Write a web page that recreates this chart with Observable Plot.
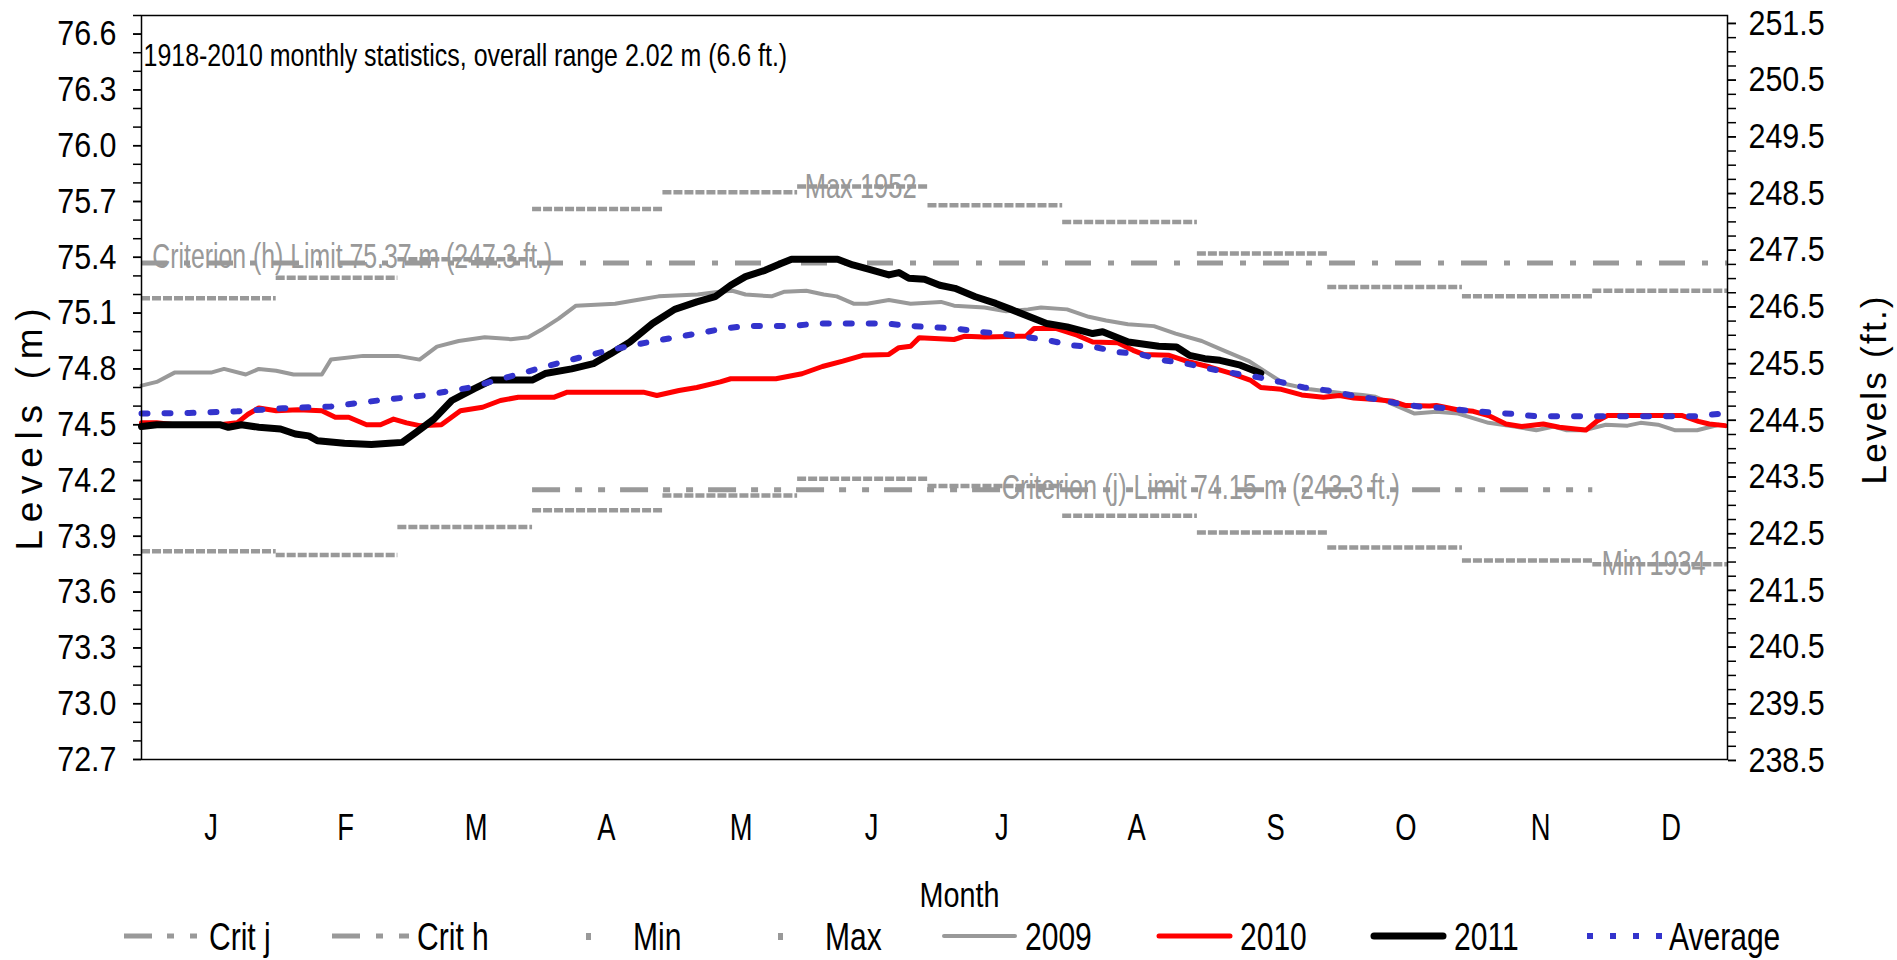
<!DOCTYPE html>
<html>
<head>
<meta charset="utf-8">
<script src="https://cdn.jsdelivr.net/npm/d3@7"></script>
<script src="https://cdn.jsdelivr.net/npm/@observablehq/plot@0.6"></script>
<style>
  html, body { margin: 0; padding: 0; background: #fff; overflow: hidden; }
  #wrap { width: 1897px; height: 960px; position: relative; }
  #legend { display: block; }
</style>
</head>
<body>
<div id="wrap">
  <div id="chart"></div>
  <svg id="legend" width="1897" height="45"></svg>
</div>
<script>
// ---------------- data ----------------
const monthLabels = ["J","F","M","A","M","J","J","A","S","O","N","D"];
const monthTickDays = [17, 48, 78, 108, 139, 169, 199, 230, 262, 292, 323, 353];
const monthStartDays = [1, 32, 60, 91, 121, 152, 182, 213, 244, 274, 305, 335];
const yearEndDay = 366;

const maxMonthly = [75.18, 75.29, 75.39, 75.66, 75.75, 75.78, 75.68, 75.59, 75.42, 75.24, 75.19, 75.22];
const minMonthly = [73.82, 73.80, 73.95, 74.04, 74.12, 74.21, 74.17, 74.01, 73.92, 73.84, 73.77, 73.75];

const critH = 75.37;
const critJ = 74.15;
const critHDays = [1, 366];
const critJDays = [91, 335];

const leftTicks = [72.7, 73.0, 73.3, 73.6, 73.9, 74.2, 74.5, 74.8, 75.1, 75.4, 75.7, 76.0, 76.3, 76.6];
const rightTicksFt = [238.5, 239.5, 240.5, 241.5, 242.5, 243.5, 244.5, 245.5, 246.5, 247.5, 248.5, 249.5, 250.5, 251.5];

const days2009 = [1,4.5,8.6,17,20,25,28,32,36,42.5,44.6,52,60,65,69,74,80,86,90,93,97,101,110,115,120,129,134,137,140,146,149,154,158,161,165,168,173,178,185,188,195,200,205,208,214,219,223,228,234,239,245,250,256,260,264,270,277,282,285,290,294,299,304,311,317,322,326,329,333,338,343,346,350,354,359,364];
const lev2009 = [74.71,74.73,74.78,74.78,74.80,74.77,74.80,74.79,74.77,74.77,74.85,74.87,74.87,74.85,74.92,74.95,74.97,74.96,74.97,75.01,75.07,75.14,75.15,75.17,75.19,75.20,75.215,75.22,75.20,75.19,75.215,75.22,75.20,75.19,75.15,75.15,75.17,75.15,75.16,75.14,75.13,75.11,75.12,75.13,75.12,75.08,75.06,75.04,75.03,74.99,74.95,74.90,74.84,74.78,74.72,74.69,74.67,74.66,74.65,74.60,74.56,74.57,74.56,74.51,74.49,74.47,74.49,74.47,74.47,74.50,74.495,74.51,74.50,74.47,74.47,74.50];

const days2010 = [1,4.5,8.6,19,23,25.5,28,32,37,42.5,45.6,48.7,52.8,56,59,62,65,70,74.4,79.5,83.6,87.7,96,99,116.5,119.6,124.7,128.8,134.2,136.6,147,153,157.7,162.4,167,173,175.3,178,180,183.5,188,190.5,195,204.6,206.4,211.6,216.3,219.9,225.7,229.2,231.6,237.5,242.2,246.9,251.6,256.3,258.6,263.3,268,273,276.7,280,285,289,292,297.4,299,303.8,307.5,311,315,318.6,323.6,327.3,331,333.4,336,338.4,355.6,359.3,361.8,365.5];
const lev2010 = [74.51,74.51,74.50,74.50,74.51,74.556,74.59,74.575,74.58,74.575,74.54,74.54,74.50,74.50,74.53,74.51,74.495,74.50,74.575,74.594,74.63,74.648,74.648,74.675,74.675,74.657,74.684,74.70,74.73,74.747,74.747,74.774,74.813,74.842,74.873,74.878,74.914,74.922,74.968,74.963,74.958,74.976,74.972,74.976,75.017,75.017,74.981,74.945,74.94,74.90,74.878,74.873,74.837,74.81,74.777,74.738,74.70,74.69,74.66,74.648,74.657,74.644,74.635,74.626,74.603,74.60,74.603,74.58,74.572,74.549,74.504,74.49,74.504,74.486,74.477,74.471,74.52,74.549,74.549,74.518,74.504,74.495];

const days2011 = [1,4.5,19,21,24,28,33,36.4,39.5,41.5,47.7,53.9,58,61,64.2,68.3,72.4,77.5,81.6,90.9,93.9,100,105,109,113.4,118.6,123.7,128.8,133,136.6,140,144.5,148.3,150.6,161.2,164.7,168.3,173,175.3,177.6,181.2,184.7,188.2,192.9,197.6,201.1,209.3,214,219.9,222.2,228.1,235.1,239.2,242.2,245.7,249.2,253.9,258.6];
const lev2011 = [74.49,74.50,74.50,74.486,74.50,74.486,74.477,74.45,74.44,74.414,74.40,74.393,74.40,74.405,74.459,74.53,74.63,74.693,74.74,74.74,74.775,74.80,74.828,74.882,74.945,75.044,75.12,75.16,75.188,75.25,75.296,75.33,75.368,75.39,75.39,75.359,75.336,75.305,75.318,75.287,75.282,75.25,75.233,75.188,75.152,75.12,75.044,75.026,74.99,75.0,74.945,74.922,74.918,74.873,74.855,74.846,74.82,74.777];

const daysAvg = [1,12,23,33.5,44.6,55.4,66,76.6,87.2,97.8,108.5,119,130,135,140.5,151,156.3,172.5,177.8,188.5,193.8,199,204.4,209.7,215,220.3,225.6,230.9,236.3,241.6,246.9,252.4,257.8,263,268.5,274,279,284.5,289.5,295,300.5,306,311,316.5,322,359,364.5];
const levAvg = [74.56,74.563,74.572,74.588,74.598,74.63,74.657,74.70,74.768,74.837,74.90,74.95,74.995,75.017,75.031,75.031,75.044,75.044,75.031,75.017,74.999,74.99,74.972,74.954,74.927,74.918,74.891,74.878,74.846,74.828,74.80,74.777,74.756,74.73,74.70,74.684,74.66,74.639,74.617,74.598,74.59,74.576,74.567,74.558,74.545,74.545,74.56];

const statsText = "1918-2010 monthly statistics, overall range 2.02 m (6.6 ft.)";
const critHText = "Criterion (h) Limit 75.37 m (247.3 ft.)";
const critJText = "Criterion (j) Limit 74.15 m (243.3 ft.)";
const maxText = "Max 1952";
const minText = "Min 1934";
const critHLabelDay = 3.5;
const critJLabelDay = 199;
const maxLabelDay = 166.5;
const minLabelDay = 349;

const legendLabels = ["Crit j", "Crit h", "Min", "Max", "2009", "2010", "2011", "Average"];

// ---------------- build ----------------
const M2FT = 3.28084;
const GRAY = "#999999";
const FONT = '"Liberation Sans", Arial, sans-serif';

const series = (days, vals) => days.map((d, i) => ({d, v: vals[i]}));
const s2009 = series(days2009, lev2009);
const s2010 = series(days2010, lev2010);
const s2011 = series(days2011, lev2011);
const sAvg = series(daysAvg, levAvg);
const monthly = monthStartDays.map((s, i) => ({
  x1: s, x2: i < 11 ? monthStartDays[i + 1] : yearEndDay, max: maxMonthly[i], min: minMonthly[i]
}));
const crits = [
  {y: critH, x1: critHDays[0], x2: critHDays[1]},
  {y: critJ, x1: critJDays[0], x2: critJDays[1]}
];
const leftMinor = d3.range(0, 41).map(i => +(72.7 + 0.1 * i).toFixed(2));
const rightMinorFt = d3.range(0, 53).map(i => 238.5 + 0.25 * i).filter(f => f / M2FT <= 76.7);

const chart = Plot.plot({
  width: 1897,
  height: 915,
  marginTop: 15,
  marginLeft: 141,
  marginRight: 170,
  marginBottom: 156,
  x: {domain: [1, 366], label: null, axis: null},
  y: {domain: [72.7, 76.7], label: null, axis: null},
  style: {fontFamily: FONT, background: "white", color: "#000", overflow: "visible"},
  marks: [
    Plot.ruleY([crits[0]], {y: "y", x1: "x1", x2: "x2", stroke: GRAY, strokeWidth: 5, strokeDasharray: "26,17,6,17"}),
    Plot.ruleY([crits[1]], {y: "y", x1: "x1", x2: "x2", stroke: GRAY, strokeWidth: 5, strokeDasharray: "28,15,7,16,7,15"}),
    Plot.ruleY(monthly, {y: "max", x1: "x1", x2: "x2", stroke: GRAY, strokeWidth: 4.5, strokeDasharray: "9,2"}),
    Plot.ruleY(monthly, {y: "min", x1: "x1", x2: "x2", stroke: GRAY, strokeWidth: 4.5, strokeDasharray: "9,2"}),
    Plot.line(s2009, {x: "d", y: "v", stroke: GRAY, strokeWidth: 4, strokeLinejoin: "round"}),
    Plot.line(s2010, {x: "d", y: "v", stroke: "#ff0000", strokeWidth: 5, strokeLinejoin: "round"}),
    Plot.line(s2011, {x: "d", y: "v", stroke: "#000000", strokeWidth: 7, strokeLinejoin: "round"}),
    Plot.line(sAvg, {x: "d", y: "v", stroke: "#3333cc", strokeWidth: 6, strokeDasharray: "6,17"}),
    Plot.text([{d: critHLabelDay, v: critH}], {x: "d", y: "v", text: () => critHText, textAnchor: "start", dy: -6, fill: GRAY, fontSize: 35}),
    Plot.text([{d: critJLabelDay, v: critJ}], {x: "d", y: "v", text: () => critJText, textAnchor: "start", dy: -2, fill: GRAY, fontSize: 35}),
    Plot.text([{d: maxLabelDay, v: maxMonthly[5]}], {x: "d", y: "v", text: () => maxText, fill: GRAY, fontSize: 35}),
    Plot.text([{d: minLabelDay, v: minMonthly[11]}], {x: "d", y: "v", text: () => minText, fill: GRAY, fontSize: 35}),
    Plot.text([statsText], {frameAnchor: "top-left", text: d => d, textAnchor: "start", dx: 2, dy: 28, fontSize: 32, fill: "#000"}),
    Plot.frame({stroke: "#000", strokeWidth: 1.5}),
    Plot.axisY(leftMinor, {anchor: "left", tickSize: 8, tickFormat: () => "", strokeWidth: 1.5, label: null}),
    Plot.axisY(leftTicks, {anchor: "left", tickSize: 8, tickPadding: 17, fontSize: 35, tickFormat: d => d.toFixed(1), strokeWidth: 1.5, label: null}),
    Plot.axisY(rightMinorFt.map(f => f / M2FT), {anchor: "right", tickSize: 8, tickFormat: () => "", strokeWidth: 1.5, label: null}),
    Plot.axisY(rightTicksFt.map(f => f / M2FT), {anchor: "right", tickSize: 8, tickPadding: 13, fontSize: 35, tickFormat: d => (d * M2FT).toFixed(1), strokeWidth: 1.5, label: null}),
    Plot.axisX(monthTickDays, {anchor: "bottom", tickSize: 0, tickPadding: 54, fontSize: 37, tickFormat: d => monthLabels[monthTickDays.indexOf(d)], label: null}),
    Plot.text(["Levels (m)"], {frameAnchor: "left", textAnchor: "start", text: d => d, rotate: -90, dx: -111, dy: 163, fontSize: 37, fill: "#000"}),
    Plot.text(["Levels (ft.)"], {frameAnchor: "right", textAnchor: "start", text: d => d, rotate: -90, dx: 147, dy: 97, fontSize: 35, fill: "#000"}),
    Plot.text(["Month"], {frameAnchor: "bottom", textAnchor: "middle", text: d => d, dx: 25, dy: 147, fontSize: 35, fill: "#000"})
  ]
});
document.getElementById("chart").appendChild(chart);

// condensed look: scale glyphs horizontally about each text's anchor
function squeezeTo(t, target) {
  const w = t.getComputedTextLength();
  if (!w) return;
  const sx = target / w;
  let tr = t.getAttribute("transform");
  if (!tr) {
    const x = +t.getAttribute("x") || 0, y = +t.getAttribute("y") || 0;
    t.removeAttribute("x"); t.removeAttribute("y");
    tr = `translate(${x},${y})`;
  }
  t.setAttribute("transform", `${tr} scale(${sx.toFixed(4)},1)`);
}
const fixedWidths = new Map([
  [statsText, 644], [critHText, 400], [critJText, 398], [maxText, 112], [minText, 104], ["Month", 80]
]);
const spacedTitles = new Map([["Levels (m)", 242], ["Levels (ft.)", 188]]);
chart.querySelectorAll("text").forEach(t => {
  const s = t.textContent;
  if (!s) return;
  const w = t.getComputedTextLength();
  if (fixedWidths.has(s)) squeezeTo(t, fixedWidths.get(s));
  else if (spacedTitles.has(s)) {
    const extra = (spacedTitles.get(s) - w) / (s.length - 1);
    t.setAttribute("letter-spacing", extra.toFixed(2));
  }
  else if (monthLabels.includes(s)) squeezeTo(t, w * 0.74);
  else if (/^\d+\.\d$/.test(s)) squeezeTo(t, w * 0.87);
});

// ---------------- legend ----------------
const legendTextX = [209, 417, 633, 825, 1025, 1240, 1454, 1669];
const swW = 77;
const lg = document.getElementById("legend");
const NS = "http://www.w3.org/2000/svg";
const mk = (tag, attrs, txt) => {
  const el = document.createElementNS(NS, tag);
  Object.entries(attrs).forEach(([k, v]) => el.setAttribute(k, v));
  if (txt != null) el.textContent = txt;
  lg.appendChild(el);
  return el;
};
const cy = 21;
legendLabels.forEach((lab, i) => {
  const tx = legendTextX[i];
  const x0 = tx - 8 - swW, x1 = tx - 8;
  if (lab === "Crit j") mk("line", {x1: x0, x2: x1, y1: cy, y2: cy, stroke: GRAY, "stroke-width": 5, "stroke-dasharray": "28,15,7,16,7,15"});
  else if (lab === "Crit h") mk("line", {x1: x0, x2: x1, y1: cy, y2: cy, stroke: GRAY, "stroke-width": 5, "stroke-dasharray": "28,16,7,16"});
  else if (lab === "Min" || lab === "Max") mk("rect", {x: tx - 47, y: cy - 3, width: 5, height: 7, fill: GRAY});
  else if (lab === "2009") mk("line", {x1: x0 + 4, x2: x1 - 2, y1: cy, y2: cy, stroke: GRAY, "stroke-width": 4, "stroke-linecap": "round"});
  else if (lab === "2010") mk("line", {x1: x0 + 4, x2: x1 - 2, y1: cy, y2: cy, stroke: "#ff0000", "stroke-width": 5, "stroke-linecap": "round"});
  else if (lab === "2011") mk("line", {x1: x0 + 5, x2: x1 - 3, y1: cy, y2: cy, stroke: "#000", "stroke-width": 7, "stroke-linecap": "round"});
  else if (lab === "Average") mk("line", {x1: x0 + 3, x2: x1 + 2, y1: cy, y2: cy, stroke: "#3333cc", "stroke-width": 6, "stroke-dasharray": "6,17"});
  const t = mk("text", {x: tx, y: 35, "font-family": FONT, "font-size": 39, fill: "#000"}, lab);
  const w = t.getComputedTextLength();
  t.setAttribute("textLength", (w * 0.77).toFixed(1));
  t.setAttribute("lengthAdjust", "spacingAndGlyphs");
});
</script>
</body>
</html>
